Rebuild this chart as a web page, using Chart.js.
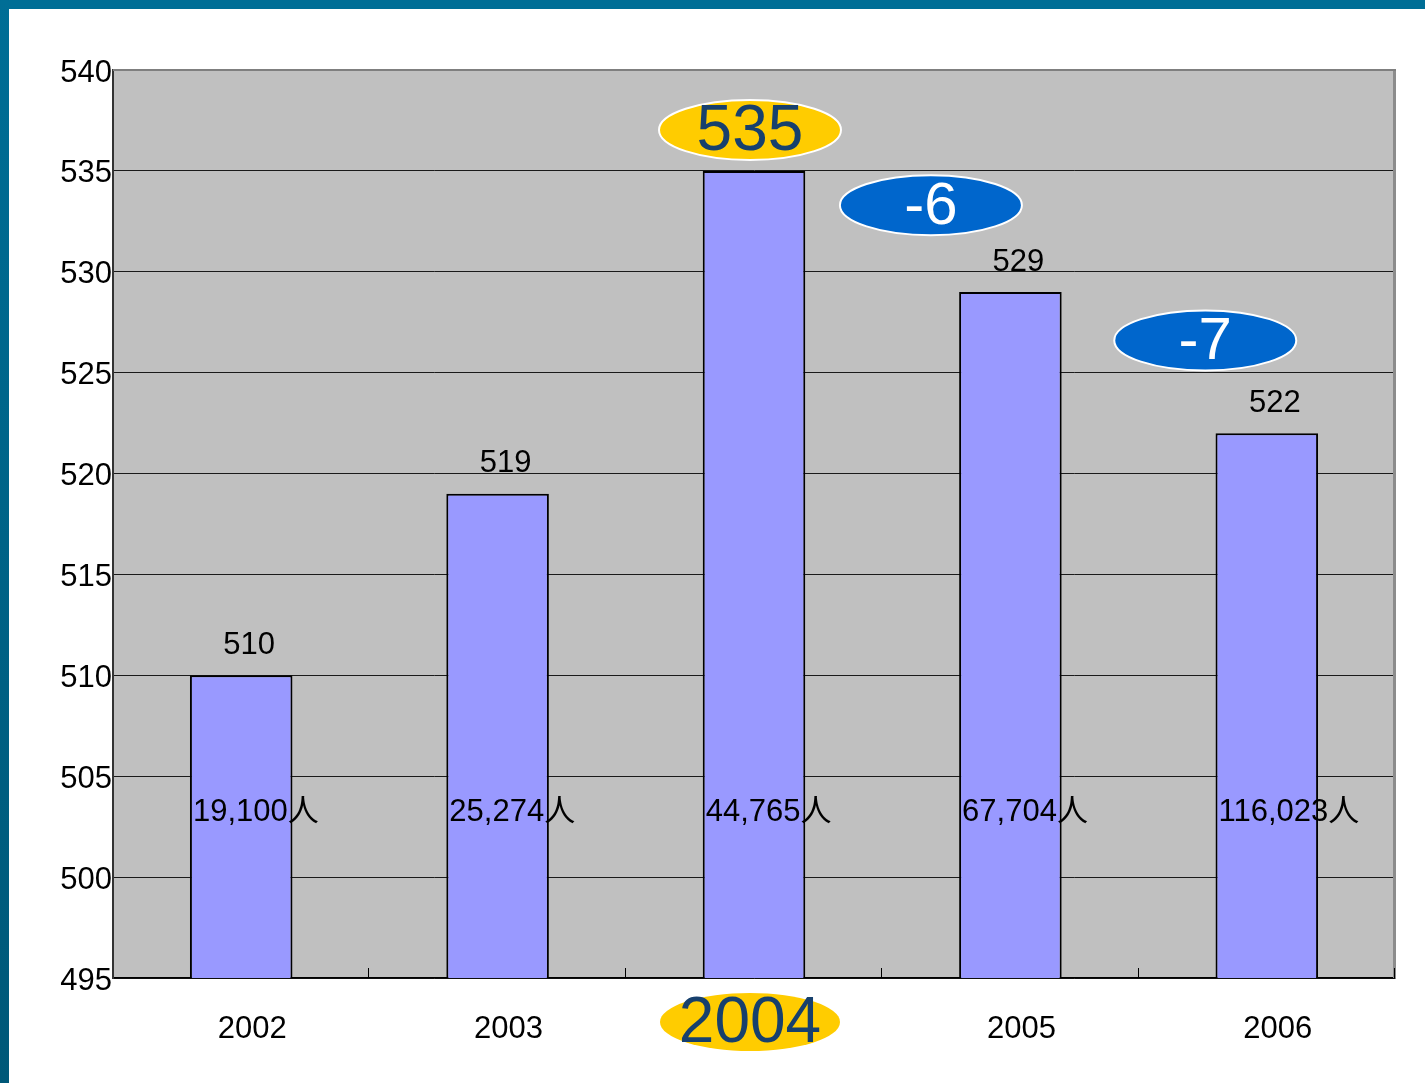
<!DOCTYPE html>
<html>
<head>
<meta charset="utf-8">
<script src="https://cdn.jsdelivr.net/npm/chart.js@4.4.1/dist/chart.umd.min.js"></script>
<style>
  body { margin: 0; background: #ffffff; overflow: hidden; }
  #marcoArriba { position: absolute; left: 0; top: 0; width: 1425px; height: 9px; background: #006e96; z-index: 2; }
  #marcoIzq { position: absolute; left: 0; top: 0; width: 9px; height: 1083px; background: linear-gradient(#006e96, #005878); z-index: 2; }
  #grafico { position: absolute; left: 0; top: 0; }
</style>
</head>
<body>
<div id="marcoArriba"></div>
<div id="marcoIzq"></div>
<canvas id="grafico" width="1425" height="1083"></canvas>
<script>
// datos del gráfico
var anios = ['2002', '2003', '2004', '2005', '2006'];
var valores = [510, 519, 535, 529, 522];
var personas = ['19,100人', '25,274人', '44,765人', '67,704人', '116,023人'];
// diferencias marcadas con óvalos azules: [posición x en categorías, valor y, texto]
var diferencias = [[2.69, 533.3, '-6'], [3.76, 526.6, '-7']];
var destacado = 2; // índice del año resaltado (2004)

var fuente = '"Liberation Sans", Arial, "Noto Sans CJK JP", sans-serif';
var tamTexto = 31;

// dibuja un óvalo con texto centrado
function ovalo(ctx, x, y, rx, ry, relleno, borde, texto, colorTexto, tam) {
  ctx.save();
  ctx.beginPath();
  ctx.ellipse(x, y, rx, ry, 0, 0, Math.PI * 2);
  ctx.fillStyle = relleno;
  ctx.fill();
  if (borde) {
    ctx.lineWidth = 2;
    ctx.strokeStyle = borde;
    ctx.stroke();
  }
  ctx.fillStyle = colorTexto;
  ctx.font = tam + 'px ' + fuente;
  ctx.textAlign = 'center';
  ctx.textBaseline = 'middle';
  ctx.fillText(texto, x, y + 2);
  ctx.restore();
}

var fondoPlugin = {
  id: 'fondo',
  beforeDraw: function (chart) {
    var a = chart.chartArea, ctx = chart.ctx;
    ctx.save();
    ctx.fillStyle = '#c0c0c0';
    ctx.fillRect(a.left, a.top, a.right - a.left, a.bottom - a.top);
    ctx.restore();
  },
  afterDatasetsDraw: function (chart) {
    var ctx = chart.ctx, a = chart.chartArea;
    var xs = chart.scales.x, ys = chart.scales.y;
    var meta = chart.getDatasetMeta(0);
    var ancho = (a.right - a.left) / anios.length;

    // borde derecho y superior del área
    ctx.save();
    ctx.fillStyle = '#8c8c8c';
    ctx.fillRect(a.right - 2, a.top, 3, a.bottom - a.top);
    ctx.fillStyle = '#7f7f7f';
    ctx.fillRect(a.left, a.top - 1, a.right - a.left + 1, 2);

    // marcas pequeñas entre categorías
    ctx.strokeStyle = '#000000';
    ctx.lineWidth = 1;
    for (var k = 1; k <= anios.length; k++) {
      var xb = Math.round(a.left + k * ancho) - 0.5;
      ctx.beginPath();
      ctx.moveTo(xb, a.bottom - 10);
      ctx.lineTo(xb, a.bottom);
      ctx.stroke();
    }

    meta.data.forEach(function (bar, i) {
      ctx.font = tamTexto + 'px ' + fuente;
      ctx.textBaseline = 'middle';
      ctx.fillStyle = '#000000';
      // personas dentro de la barra
      ctx.textAlign = 'left';
      ctx.fillText(personas[i], bar.x - bar.width / 2 + 3, ys.getPixelForValue(503.3) + 2);
      // valor encima de la barra
      if (i === destacado) {
        ovalo(ctx, bar.x - 4, bar.y - 41, 91, 30, '#ffcc00', '#ffffff', String(valores[i]), '#17406d', 64);
      } else {
        ctx.textAlign = 'center';
        ctx.fillText(String(valores[i]), bar.x + 8, bar.y - 30);
      }
      // etiquetas del eje x
      if (i === destacado) {
        ovalo(ctx, bar.x - 4, a.bottom + 44, 90, 29, '#ffcc00', null, anios[i], '#17406d', 64);
      } else {
        ctx.textAlign = 'center';
        ctx.fillStyle = '#000000';
        ctx.font = tamTexto + 'px ' + fuente;
        ctx.fillText(anios[i], bar.x + 11, a.bottom + 51);
      }
    });

    diferencias.forEach(function (d) {
      ovalo(ctx, xs.getPixelForValue(d[0]), ys.getPixelForValue(d[1]), 91, 30, '#0066cc', '#ffffff', d[2], '#ffffff', 60);
    });
    ctx.restore();
  }
};

new Chart(document.getElementById('grafico').getContext('2d'), {
  type: 'bar',
  data: {
    labels: anios,
    datasets: [{
      data: valores,
      backgroundColor: '#9999ff',
      borderColor: '#000000',
      borderWidth: 2,
      borderSkipped: 'bottom',
      barPercentage: 0.4,
      categoryPercentage: 1
    }]
  },
  options: {
    responsive: false,
    animation: false,
    devicePixelRatio: 1,
    layout: { padding: { top: 70, right: 30, left: 0, bottom: 0 } },
    plugins: { legend: { display: false }, tooltip: { enabled: false } },
    scales: {
      x: {
        grid: { display: false },
        border: { color: '#000000', width: 1.5 },
        ticks: { display: false },
        afterFit: function (s) { s.height = 105; }
      },
      y: {
        min: 495,
        max: 540,
        grid: {
          color: function (c) { return c.tick && c.tick.value === 540 ? 'rgba(0,0,0,0)' : '#1a1a1a'; },
          lineWidth: 1,
          tickLength: 0
        },
        border: { color: '#333333', width: 2 },
        ticks: {
          stepSize: 5,
          color: '#000000',
          padding: 1,
          labelOffset: 3,
          font: { family: fuente, size: tamTexto }
        },
        afterFit: function (s) { s.width = 113; }
      }
    }
  },
  plugins: [fondoPlugin]
});
</script>
</body>
</html>
